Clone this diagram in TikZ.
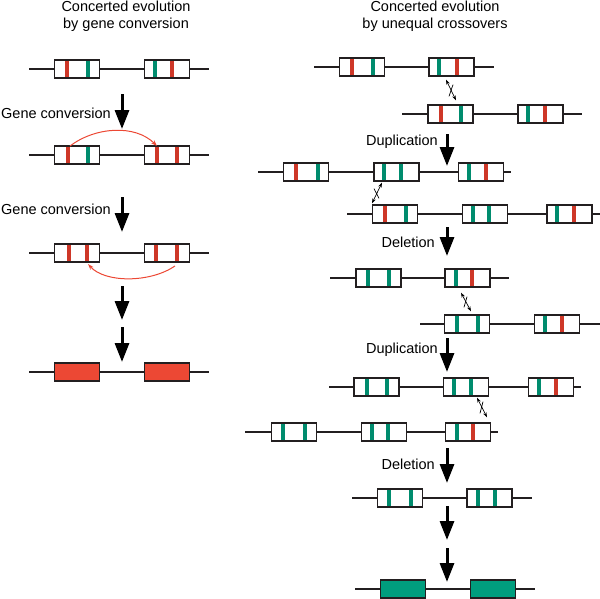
\documentclass[tikz,border=0pt]{standalone}
\usepackage{fontspec}
\setmainfont{Liberation Sans}
\usepackage{xcolor}
\usepackage{tikz}
\usetikzlibrary{arrows.meta,calc}

\definecolor{barred}{RGB}{206,55,40}
\definecolor{bargreen}{RGB}{0,140,110}
\definecolor{fillred}{RGB}{236,72,52}
\definecolor{fillgreen}{RGB}{0,158,126}
\definecolor{ink}{RGB}{35,31,32}

% one gene copy: name, x, y, colour and x of both bars
\newcommand{\genebox}[7]{%
    \draw[bar,#4] (#5,#3) ++(0,-8) -- ++(0,16);
    \draw[bar,#6] (#7,#3) ++(0,-8) -- ++(0,16);
    \node[gene, fill=none] (#1) at (#2,#3) {};
}

\begin{document}
\begin{tikzpicture}[x=1pt, y=-1pt,
    gene/.style={rectangle, draw=ink, line width=1.8pt, fill=white, minimum width=45pt, minimum height=17.5pt, inner sep=0pt},
    bar/.style={line width=3.2pt},
    strand/.style={draw=ink, line width=1.3pt},
    bigarrow/.style={-{Triangle[length=19pt, width=14pt]}, line width=3pt},
    swaparrow/.style={{Stealth[length=5pt, width=3.5pt]}-{Stealth[length=5pt, width=3.5pt]}, line width=0.7pt},
    convarrow/.style={-{Stealth[length=6pt, width=4pt]}, draw=fillred, line width=1pt},
    label/.style={font=\fontsize{14.5}{17}\selectfont, inner sep=0pt}
]
    \useasboundingbox (0,0) rectangle (600,598);

    % titles
    \node[label, align=center] (ltitle) at (126,16) {Concerted evolution\\by gene conversion};
    \node[label, align=center] (rtitle) at (435,16) {Concerted evolution\\by unequal crossovers};

    % left column: gene conversion
    \coordinate (l1w) at (29,69);  \coordinate (l1e) at (209,69);
    \coordinate (l2w) at (29,155); \coordinate (l2e) at (209,155);
    \coordinate (l3w) at (29,253); \coordinate (l3e) at (209,253);
    \coordinate (l4w) at (29,372); \coordinate (l4e) at (209,372);
    \foreach \r in {1,2,3,4} {\draw[strand] (l\r w) -- (l\r e);}

    % white ground of every box before the bars
    \foreach \x/\y in {77/69,167/69,77/155,167/155,77/253,167/253,
        362/67,451.5/67,450.5/114,540.5/114,306/172,396.5/172,481/172,
        395/214,485/214,569.5/214,378.5/278,467.5/278,467/324,557/324,
        376.5/387,466/387,551/387,294/432,384/432,468/432,400/498,489.5/498}
        {\fill[white] (\x,\y) ++(-22.5,-8.75) rectangle ++(45,17.5);}

    \genebox{l1a}{77}{69}{barred}{67}{bargreen}{88}
    \genebox{l1b}{167}{69}{bargreen}{155}{barred}{172}
    \genebox{l2a}{77}{155}{barred}{68}{bargreen}{88}
    \genebox{l2b}{167}{155}{barred}{157}{barred}{177}
    \genebox{l3a}{77}{253}{barred}{69}{barred}{87}
    \genebox{l3b}{167}{253}{barred}{156}{barred}{177}
    \node[gene, fill=fillred] (l4a) at (77,372) {};
    \node[gene, fill=fillred] (l4b) at (167,372) {};

    \draw[convarrow] (70,146) .. controls (95,127) and (135,124) .. (157,146);
    \draw[convarrow] (175,266) .. controls (150,283) and (105,283) .. (88,264);

    \draw[bigarrow] (122,94) coordinate (la1) -- (122,129) coordinate (lb1);
    \draw[bigarrow] (122,197) coordinate (la2) -- (122,232) coordinate (lb2);
    \draw[bigarrow] (122,286) coordinate (la3) -- (122,320) coordinate (lb3);
    \draw[bigarrow] (122,327) coordinate (la4) -- (122,362) coordinate (lb4);
    \node[label, anchor=east] (conv1) at (111,113) {Gene conversion};
    \node[label, anchor=east] (conv2) at (111,209) {Gene conversion};

    % right column: unequal crossovers
    \coordinate (r1w) at (314,67);  \coordinate (r1e) at (494,67);
    \coordinate (r2w) at (402,114); \coordinate (r2e) at (582,114);
    \coordinate (r3w) at (258,172); \coordinate (r3e) at (511,172);
    \coordinate (r4w) at (347,214); \coordinate (r4e) at (600,214);
    \coordinate (r5w) at (330,278); \coordinate (r5e) at (509,278);
    \coordinate (r6w) at (420,324); \coordinate (r6e) at (600,324);
    \coordinate (r7w) at (329,387); \coordinate (r7e) at (581,387);
    \coordinate (r8w) at (245,432); \coordinate (r8e) at (498,432);
    \coordinate (r9w) at (352,498); \coordinate (r9e) at (532,498);
    \coordinate (r10w) at (355,589); \coordinate (r10e) at (535,589);

    \genebox{r1a}{362}{67}{barred}{352}{bargreen}{373}
    \genebox{r1b}{451.5}{67}{bargreen}{439}{barred}{457}
    \genebox{r2a}{450.5}{114}{barred}{441}{bargreen}{461}
    \genebox{r2b}{540.5}{114}{bargreen}{528}{barred}{545}
    \genebox{r3a}{306}{172}{barred}{296}{bargreen}{318}
    \genebox{r3b}{396.5}{172}{bargreen}{384}{bargreen}{401}
    \genebox{r3c}{481}{172}{bargreen}{469}{barred}{486}
    \genebox{r4a}{395}{214}{barred}{385}{bargreen}{406}
    \genebox{r4b}{485}{214}{bargreen}{473}{bargreen}{489}
    \genebox{r4c}{569.5}{214}{bargreen}{557}{barred}{574}
    \genebox{r5a}{378.5}{278}{bargreen}{368}{bargreen}{389}
    \genebox{r5b}{467.5}{278}{bargreen}{456}{barred}{472}
    \genebox{r6a}{467}{324}{bargreen}{457}{bargreen}{478}
    \genebox{r6b}{557}{324}{bargreen}{545}{barred}{562}
    \genebox{r7a}{376.5}{387}{bargreen}{367}{bargreen}{387}
    \genebox{r7b}{466}{387}{bargreen}{454}{bargreen}{471}
    \genebox{r7c}{551}{387}{bargreen}{539}{barred}{556}
    \genebox{r8a}{294}{432}{bargreen}{283}{bargreen}{305}
    \genebox{r8b}{384}{432}{bargreen}{372}{bargreen}{388}
    \genebox{r8c}{468}{432}{bargreen}{457}{barred}{473}
    \genebox{r9a}{400}{498}{bargreen}{389}{bargreen}{411}
    \genebox{r9b}{489.5}{498}{bargreen}{478}{bargreen}{495}

    % strand pieces between and beside the boxes
    \draw[strand] (r1w) -- (r1a.west) (r1a.east) -- (r1b.west) (r1b.east) -- (r1e);
    \draw[strand] (r2w) -- (r2a.west) (r2a.east) -- (r2b.west) (r2b.east) -- (r2e);
    \draw[strand] (r3w) -- (r3a.west) (r3a.east) -- (r3b.west) (r3b.east) -- (r3c.west) (r3c.east) -- (r3e);
    \draw[strand] (r4w) -- (r4a.west) (r4a.east) -- (r4b.west) (r4b.east) -- (r4c.west) (r4c.east) -- (r4e);
    \draw[strand] (r5w) -- (r5a.west) (r5a.east) -- (r5b.west) (r5b.east) -- (r5e);
    \draw[strand] (r6w) -- (r6a.west) (r6a.east) -- (r6b.west) (r6b.east) -- (r6e);
    \draw[strand] (r7w) -- (r7a.west) (r7a.east) -- (r7b.west) (r7b.east) -- (r7c.west) (r7c.east) -- (r7e);
    \draw[strand] (r8w) -- (r8a.west) (r8a.east) -- (r8b.west) (r8b.east) -- (r8c.west) (r8c.east) -- (r8e);
    \draw[strand] (r9w) -- (r9a.west) (r9a.east) -- (r9b.west) (r9b.east) -- (r9e);
    \draw[strand] (r10w) -- (r10e);
    \node[gene, fill=fillgreen] (r10a) at (403,589) {};
    \node[gene, fill=fillgreen] (r10b) at (493,589) {};

    % crossovers
    \draw[swaparrow] ($(r1b.south)+(-5.5,3)$) -- ($(r2a.north)+(5.5,-4)$);
    \draw[line width=0.7pt] ($(r1b.south)+(1.5,8)$) -- ($(r2a.north)+(-1.5,-8)$);
    \draw[swaparrow] ($(r3b.south)+(-14.5,1)$) -- ($(r4a.north)+(-23,-1)$);
    \draw[line width=0.7pt] ($(r3b.south)+(-22.5,7)$) -- ($(r4a.north)+(-16,-6)$);
    \draw[swaparrow] ($(r5b.south)+(-6.5,5)$) -- ($(r6a.north)+(4,-3)$);
    \draw[line width=0.7pt] ($(r5b.south)+(-0.5,9)$) -- ($(r6a.north)+(-3,-7)$);
    \draw[swaparrow] ($(r7b.south)+(11,1)$) -- ($(r8c.north)+(19,-5)$);
    \draw[line width=0.7pt] ($(r7b.south)+(17,5)$) -- ($(r8c.north)+(12,-9)$);

    \draw[bigarrow] (447,134) coordinate (ra1) -- (447,166) coordinate (rb1);
    \draw[bigarrow] (447,227) coordinate (ra2) -- (447,256) coordinate (rb2);
    \draw[bigarrow] (447,338) coordinate (ra3) -- (447,372) coordinate (rb3);
    \draw[bigarrow] (447,448) coordinate (ra4) -- (447,483) coordinate (rb4);
    \draw[bigarrow] (447,506) coordinate (ra5) -- (447,540) coordinate (rb5);
    \draw[bigarrow] (447,548) coordinate (ra6) -- (447,582) coordinate (rb6);
    \node[label, anchor=east] (dup1) at (438,142) {Duplication};
    \node[label, anchor=east] (del1) at (435,242) {Deletion};
    \node[label, anchor=east] (dup2) at (438,350) {Duplication};
    \node[label, anchor=east] (del2) at (435,464) {Deletion};
\end{tikzpicture}
\end{document}
